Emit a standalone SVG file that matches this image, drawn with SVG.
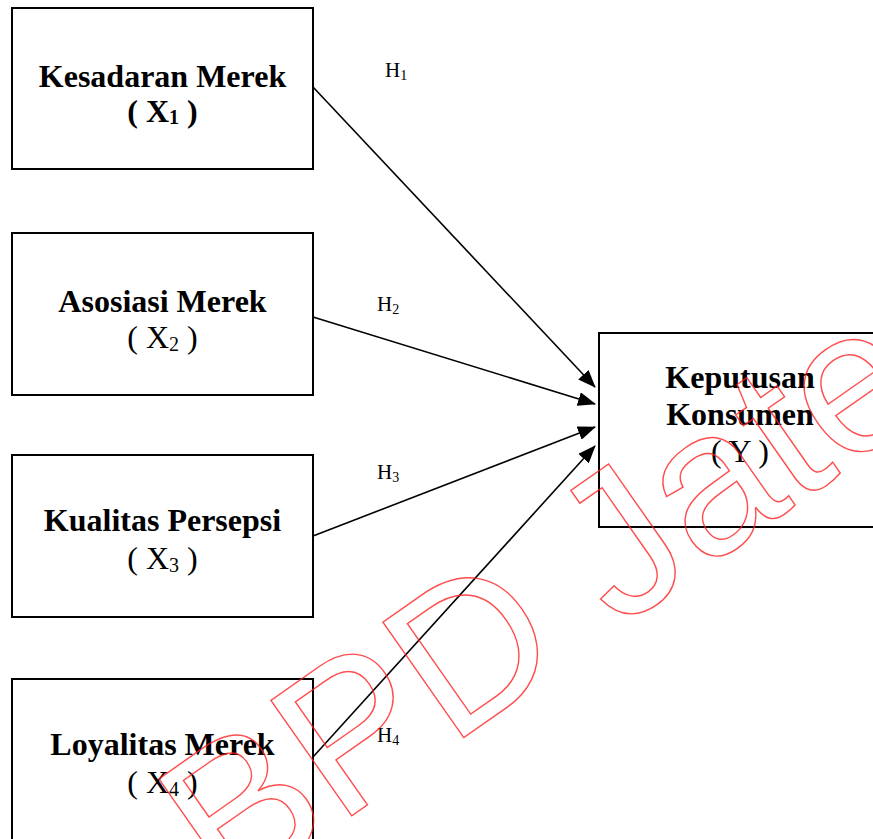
<svg xmlns="http://www.w3.org/2000/svg" width="873" height="839" viewBox="0 0 873 839">
<style>
.box{fill:#fff;stroke:#000;stroke-width:2}
.t{font-family:"Liberation Serif","Times New Roman",serif;font-size:32px;fill:#000;text-anchor:middle}
.b{font-weight:bold}
.h{font-family:"Liberation Serif","Times New Roman",serif;font-size:21px;fill:#000}
.c{stroke:#000;stroke-width:1.6;fill:none;marker-end:url(#ah)}
.wm{font-family:"Liberation Sans",Arial,sans-serif;font-size:205px;fill:none;stroke:#ff2020;stroke-width:1.4;stroke-opacity:0.8}
</style>
<defs>
<marker id="ah" markerUnits="userSpaceOnUse" markerWidth="18" markerHeight="14" viewBox="0 0 18 14" refX="17" refY="7" orient="auto">
<path d="M0,0 L18,7 L0,14 Z" fill="#000"/>
</marker>
</defs>
<rect width="873" height="839" fill="#fff"/>
<g id="x1">
<rect class="box" x="12" y="8" width="301" height="161"/>
<text class="t b" x="162.5" y="87">Kesadaran Merek</text>
<text class="t b" x="162.5" y="122">( X<tspan font-size="20" dy="2">1</tspan><tspan dy="-2"> )</tspan></text>
</g>
<g id="x2">
<rect class="box" x="12" y="233" width="301" height="162"/>
<text class="t b" x="162.5" y="312">Asosiasi Merek</text>
<text class="t" x="162.5" y="348">( X<tspan font-size="20" dy="3">2</tspan><tspan dy="-3"> )</tspan></text>
</g>
<g id="x3">
<rect class="box" x="12" y="455" width="301" height="162"/>
<text class="t b" x="162.5" y="531">Kualitas Persepsi</text>
<text class="t" x="162.5" y="569">( X<tspan font-size="20" dy="3">3</tspan><tspan dy="-3"> )</tspan></text>
</g>
<g id="x4">
<rect class="box" x="12" y="679" width="301" height="165"/>
<text class="t b" x="162.5" y="755">Loyalitas Merek</text>
<text class="t" x="162.5" y="793">( X<tspan font-size="20" dy="3">4</tspan><tspan dy="-3"> )</tspan></text>
</g>
<g id="y">
<rect class="box" x="599" y="333" width="290" height="194"/>
<text class="t b" x="740" y="388">Keputusan</text>
<text class="t b" x="740" y="425">Konsumen</text>
<text class="t" x="740" y="462">( Y )</text>
</g>
<g id="connectors">
<line class="c" x1="313" y1="87" x2="595" y2="387"/>
<line class="c" x1="313" y1="317" x2="595" y2="404"/>
<line class="c" x1="313" y1="536" x2="595" y2="427"/>
<line class="c" x1="313" y1="757" x2="595" y2="446"/>
</g>
<g id="labels">
<text class="h" x="385" y="77">H<tspan font-size="14" dy="3">1</tspan></text>
<text class="h" x="377" y="311">H<tspan font-size="14" dy="3">2</tspan></text>
<text class="h" x="377" y="479">H<tspan font-size="14" dy="3">3</tspan></text>
<text class="h" x="377" y="742">H<tspan font-size="14" dy="3">4</tspan></text>
</g>
<g id="watermark">
<text class="wm" transform="translate(226,904) rotate(-35)">BPD Jateng</text>
</g>
</svg>
